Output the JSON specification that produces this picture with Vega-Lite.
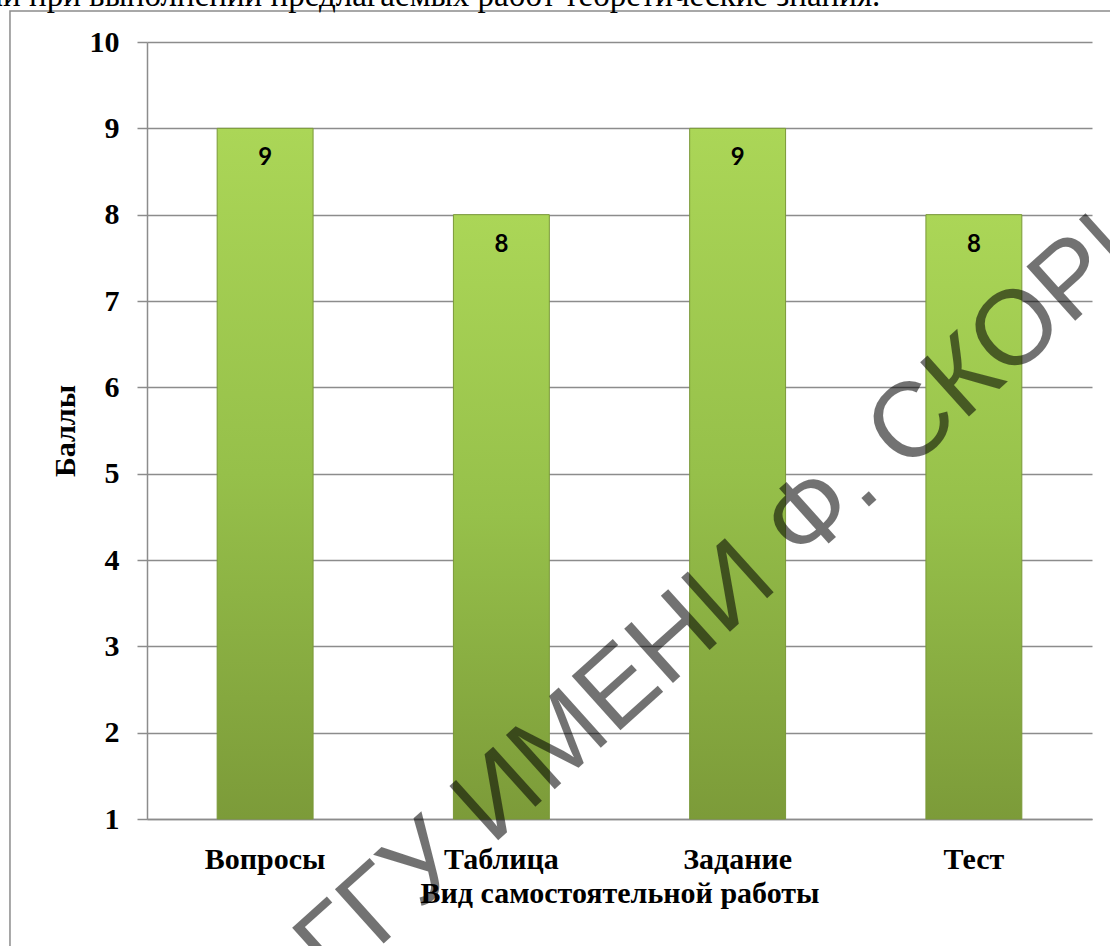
{
  "$schema": "https://vega.github.io/schema/vega-lite/v6.json",
  "autosize": {"type": "none"},
  "width": 945,
  "height": 777,
  "padding": {"left": 147, "top": 42, "right": 18, "bottom": 127},
  "background": "white",
  "config": {
    "view": {"stroke": null},
    "axis": {
      "labelFont": "Liberation Serif",
      "labelFontWeight": "bold",
      "labelFontSize": 30,
      "labelColor": "#000000",
      "titleFont": "Liberation Serif",
      "titleFontWeight": "bold",
      "titleFontSize": 30,
      "titleColor": "#000000",
      "domainColor": "#8c8c8c",
      "domainWidth": 1.5,
      "tickColor": "#8c8c8c",
      "tickWidth": 1.5,
      "gridColor": "#8c8c8c",
      "gridWidth": 1.5,
      "gridOpacity": 1
    }
  },
  "datasets": {
    "scores": [
      {"work": "Вопросы", "score": 9},
      {"work": "Таблица", "score": 8},
      {"work": "Задание", "score": 9},
      {"work": "Тест", "score": 8}
    ],
    "frame": [{"x1": -0.145, "x2": 1.2, "y1": 10.359, "y2": -1}],
    "watermark": [{"px": 0.689, "py": 4.38, "label": "ГГУ ИМЕНИ Ф. СКОРИНЫ"}],
    "toptext": [{"px": 0.776, "py": 10.417, "label": "применяли при выполнении предлагаемых работ теоретические знания."}]
  },
  "resolve": {"scale": {"x": "independent", "y": "independent"}, "axis": {"x": "independent", "y": "independent"}},
  "layer": [
    {
      "data": {"name": "scores"},
      "mark": {
        "type": "bar",
        "stroke": "#7a9838",
        "strokeWidth": 1,
        "color": {
          "gradient": "linear",
          "x1": 0, "y1": 0, "x2": 0, "y2": 1,
          "stops": [
            {"offset": 0, "color": "#abd657"},
            {"offset": 0.5, "color": "#96c04a"},
            {"offset": 1, "color": "#7c9b39"}
          ]
        }
      },
      "encoding": {
        "x": {
          "field": "work",
          "type": "nominal",
          "sort": null,
          "scale": {"paddingInner": 0.594, "paddingOuter": 0.297},
          "axis": {
            "title": "Вид самостоятельной работы",
            "labelAngle": 0,
            "ticks": false,
            "tickSize": 0,
            "labelPadding": 25,
            "titlePadding": 4,
            "grid": false
          }
        },
        "y": {
          "field": "score",
          "type": "quantitative",
          "scale": {"domain": [1, 10], "zero": false, "nice": false},
          "axis": {
            "title": "Баллы",
            "values": [1, 2, 3, 4, 5, 6, 7, 8, 9, 10],
            "tickSize": 10,
            "labelPadding": 18,
            "titlePadding": 9,
            "grid": true
          }
        },
        "y2": {"datum": 1}
      }
    },
    {
      "data": {"name": "scores"},
      "mark": {
        "type": "text",
        "font": "Lato",
        "fontWeight": "bold",
        "fontSize": 24,
        "color": "#000000",
        "baseline": "middle",
        "dy": 30
      },
      "encoding": {
        "x": {
          "field": "work",
          "type": "nominal",
          "sort": null,
          "scale": {"paddingInner": 0.594, "paddingOuter": 0.297},
          "axis": null
        },
        "y": {
          "field": "score",
          "type": "quantitative",
          "scale": {"domain": [1, 10], "zero": false, "nice": false},
          "axis": null
        },
        "text": {"field": "score", "type": "quantitative"}
      }
    },
    {
      "data": {"name": "frame"},
      "mark": {"type": "rect", "fill": null, "fillOpacity": 0, "stroke": "#8c8c8c", "strokeWidth": 1.5, "clip": false},
      "encoding": {
        "x": {"field": "x1", "type": "quantitative", "scale": {"domain": [0, 1], "nice": false, "zero": false}, "axis": null},
        "x2": {"field": "x2"},
        "y": {"field": "y1", "type": "quantitative", "scale": {"domain": [1, 10], "zero": false, "nice": false}, "axis": null},
        "y2": {"field": "y2"}
      }
    },
    {
      "data": {"name": "toptext"},
      "mark": {"type": "text", "font": "Liberation Serif", "fontSize": 33, "color": "#000000", "align": "right", "baseline": "alphabetic", "clip": false},
      "encoding": {
        "x": {"field": "px", "type": "quantitative", "scale": {"domain": [0, 1], "nice": false, "zero": false}, "axis": null},
        "y": {"field": "py", "type": "quantitative", "scale": {"domain": [1, 10], "zero": false, "nice": false}, "axis": null},
        "text": {"field": "label"}
      }
    },
    {
      "data": {"name": "watermark"},
      "mark": {"type": "text", "font": "Liberation Sans", "fontSize": 106, "color": "#000000", "opacity": 0.55, "angle": -42, "align": "center", "baseline": "middle", "clip": false},
      "encoding": {
        "x": {"field": "px", "type": "quantitative", "scale": {"domain": [0, 1], "nice": false, "zero": false}, "axis": null},
        "y": {"field": "py", "type": "quantitative", "scale": {"domain": [1, 10], "zero": false, "nice": false}, "axis": null},
        "text": {"field": "label"}
      }
    }
  ]
}
